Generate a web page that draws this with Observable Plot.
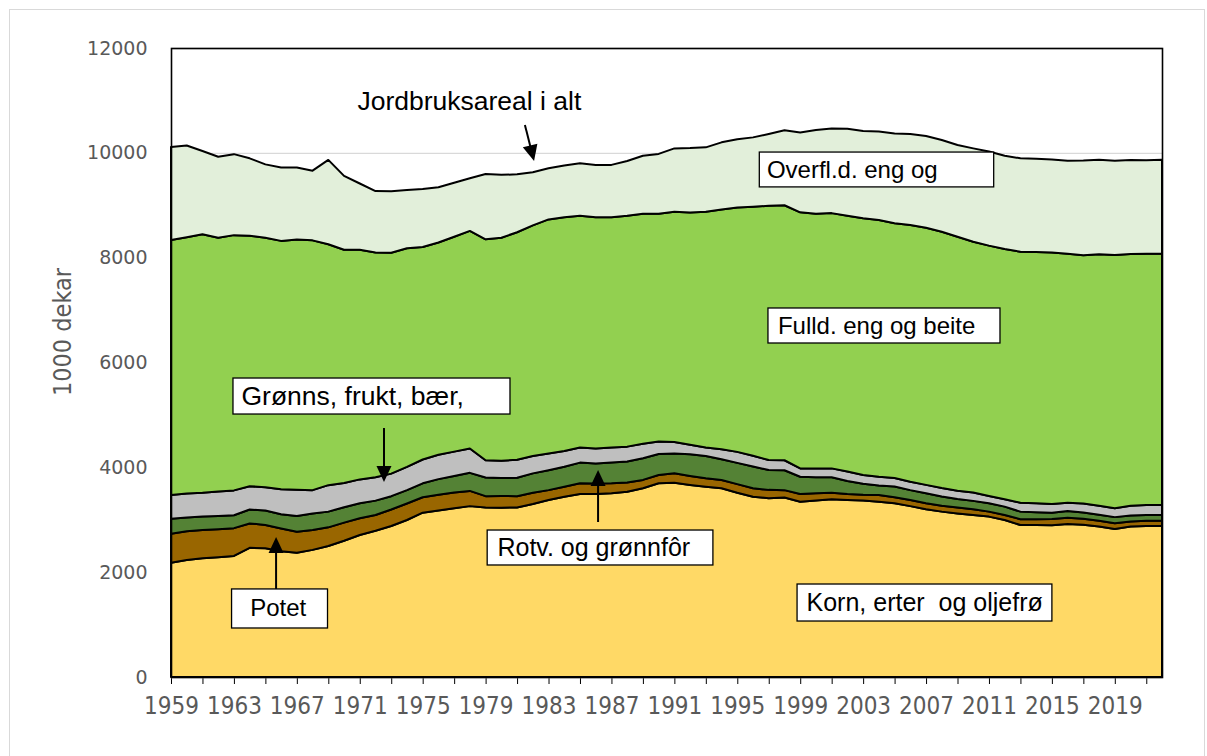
<!DOCTYPE html>
<html>
<head>
<meta charset="utf-8">
<script src="https://cdn.jsdelivr.net/npm/d3@7"></script>
<script src="https://cdn.jsdelivr.net/npm/@observablehq/plot@0.6"></script>
<style>
html, body { margin: 0; padding: 0; background: #fff; }
#wrap { position: relative; width: 1207px; height: 756px; overflow: hidden; }
#border { position: absolute; left: 9px; top: 9px; width: 1196px; height: 780px; border: 1px solid #d9d9d9; box-sizing: border-box; }
#chart { position: absolute; left: 0; top: 0; }
#chart [aria-label^="y-axis"] text { font-family: "DejaVu Sans", sans-serif; font-size: 19px; fill: #595959; }
#chart [aria-label^="x-axis"] text { font-family: "Liberation Sans Narrow", "DejaVu Sans Condensed", "Liberation Sans", sans-serif; font-size: 24px; fill: #595959; }
</style>
</head>
<body>
<div id="wrap"><div id="border"></div><div id="chart"></div></div>
<script>
// ---- data (1000 dekar) ----
const years = [1959,1960,1961,1962,1963,1964,1965,1966,1967,1968,1969,1970,1971,1972,1973,1974,1975,1976,1977,1978,1979,1980,1981,1982,1983,1984,1985,1986,1987,1988,1989,1990,
1991,1992,1993,1994,1995,1996,1997,1998,1999,2000,2001,2002,2003,2004,2005,2006,2007,2008,2009,2010,2011,2012,2013,2014,2015,2016,2017,2018,2019,2020,2021,2022];

const korn = [2180,2230,2265,2285,2310,2465,2455,2400,2370,2425,2500,2600,2710,2790,2880,2995,3135,3175,3220,3260,3235,3230,3235,3300,3375,3440,3490,3490,3505,3535,3600,3695,
3705,3665,3630,3600,3515,3440,3410,3425,3345,3365,3390,3375,3365,3345,3315,3260,3200,3155,3120,3090,3060,2995,2900,2900,2895,2920,2905,2870,2825,2870,2880,2880];

const potet = [555,550,540,535,530,465,445,435,400,380,355,345,320,300,315,315,295,300,300,290,215,225,215,215,190,190,205,200,190,175,160,160,
180,170,160,160,165,160,160,140,145,140,125,115,110,125,115,115,115,110,115,110,95,95,110,110,120,120,115,110,110,95,100,100];

const rotv = [285,265,255,250,245,265,275,270,300,315,300,295,285,275,255,255,265,300,315,345,355,340,350,370,380,380,395,385,395,400,415,400,
380,415,425,395,405,415,380,380,330,305,295,250,210,185,205,190,190,180,160,160,160,160,145,135,120,125,120,115,115,115,110,110];

const gronns = [450,455,455,470,475,445,445,475,500,445,505,460,455,445,430,445,455,465,465,465,330,330,345,330,320,300,290,285,290,285,275,240,
220,180,165,190,210,205,190,190,160,170,170,180,170,165,160,160,160,160,160,160,140,140,170,170,165,160,170,170,170,185,190,190];

const fulld = [4865,4890,4930,4840,4870,4780,4760,4740,4775,4765,4595,4450,4380,4290,4215,4170,4055,4050,4100,4150,4215,4255,4340,4400,4465,4460,4420,4410,4390,4405,4390,4345,
4390,4430,4495,4575,4660,4750,4850,4865,4885,4860,4870,4880,4895,4900,4860,4900,4905,4890,4845,4785,4775,4775,4790,4795,4800,4750,4735,4800,4830,4805,4795,4795];

const overfl = [1775,1750,1590,1545,1545,1475,1400,1400,1375,1330,1610,1410,1265,1170,1170,1110,1105,1055,1030,1005,1245,1200,1105,1015,975,990,1000,1000,1000,1045,1105,1140,
1210,1230,1230,1280,1305,1325,1370,1430,1525,1595,1615,1660,1665,1685,1715,1735,1750,1750,1750,1780,1795,1780,1780,1775,1775,1775,1810,1805,1800,1795,1785,1795];

const seriesNames = ["Korn, erter og oljefrø", "Potet", "Rotv. og grønnfôr", "Grønns, frukt, bær", "Fulld. eng og beite", "Overfl.d. eng og beite"];
const seriesValues = [korn, potet, rotv, gronns, fulld, overfl];
const seriesColors = ["#FFD966", "#996600", "#548235", "#BFBFBF", "#92D050", "#E2EFDA"];

const yTicks = [0, 2000, 4000, 6000, 8000, 10000, 12000];
const tickYears = [1959,1961,1963,1965,1967,1969,1971,1973,1975,1977,1979,1981,1983,1985,1987,1989,1991,1993,1995,1997,1999,2001,2003,2005,2007,2009,2011,2013,2015,2017,2019,2021];
const labelYears = [1959,1963,1967,1971,1975,1979,1983,1987,1991,1995,1999,2003,2007,2011,2015,2019];

// annotation boxes (in data units: year / 1000 dekar)
const boxes = [
  {label: "Overfl.d. eng og", x1: 1996.4, x2: 2011.3, y1: 9350, y2: 10015, tx: 1996.85, ty: 9682, fs: 24},
  {label: "Fulld. eng og beite", x1: 1996.95, x2: 2011.7, y1: 6372, y2: 7040, tx: 1997.55, ty: 6706, fs: 24},
  {label: "Grønns, frukt, bær,", x1: 1962.94, x2: 1980.55, y1: 5017, y2: 5704, tx: 1963.45, ty: 5360, fs: 26.5},
  {label: "Rotv. og grønnfôr", x1: 1979.1, x2: 1993.45, y1: 2137, y2: 2804, tx: 1979.72, ty: 2470, fs: 25},
  {label: "Potet", x1: 1962.85, x2: 1968.95, y1: 935, y2: 1680, tx: 1964.0, ty: 1316, fs: 24},
  {label: "Korn, erter  og oljefrø", x1: 1998.8, x2: 2015.0, y1: 1068, y2: 1774, tx: 1999.37, ty: 1420, fs: 25}
];
const freeLabels = [{label: "Jordbruksareal i alt", tx: 1970.82, ty: 10988, fs: 26.5}];
const arrows = [
  {x1: 1981.5, y1: 10530, x2: 1982.08, y2: 9844},
  {x1: 1972.54, y1: 4750, x2: 1972.54, y2: 3720},
  {x1: 1986.15, y1: 2957, x2: 1986.15, y2: 3949},
  {x1: 1965.68, y1: 1680, x2: 1965.68, y2: 2671}
];

// ---- build table ----
const rows = [];
seriesNames.forEach((name, i) => {
  years.forEach((yr, j) => rows.push({year: yr, series: name, value: seriesValues[i][j]}));
});

function arrowMark(index, scales) {
  const g = d3.create("svg:g").attr("aria-label", "arrows");
  if (!scales || typeof scales.x !== "function") return g.node();
  for (const a of arrows) {
    const x1 = scales.x(a.x1), y1 = scales.y(a.y1), x2 = scales.x(a.x2), y2 = scales.y(a.y2);
    const dx = x2 - x1, dy = y2 - y1, L = Math.hypot(dx, dy), ux = dx / L, uy = dy / L;
    const hl = 16, hw = 7.5;
    const bx = x2 - ux * hl, by = y2 - uy * hl;
    g.append("line").attr("x1", x1).attr("y1", y1).attr("x2", bx + ux * 2).attr("y2", by + uy * 2)
      .attr("stroke", "black").attr("stroke-width", 2);
    g.append("path").attr("d", `M${x2},${y2}L${bx - uy * hw},${by + ux * hw}L${bx + uy * hw},${by - ux * hw}Z`)
      .attr("fill", "black");
  }
  return g.node();
}

const annFont = "'Liberation Sans', Arial, sans-serif";

const chart = Plot.plot({
  width: 1207,
  height: 745,
  marginLeft: 171,
  marginRight: 45,
  marginTop: 48,
  marginBottom: 68,
  style: {background: "transparent", fontFamily: annFont, color: "black", overflow: "visible"},
  x: {domain: [1959, 2022], ticks: tickYears, tickFormat: d => labelYears.includes(d) ? String(d) : "", tickSize: 7, tickPadding: 12, label: null},
  y: {domain: [0, 12000], ticks: yTicks, tickFormat: d => String(d), tickSize: 0, tickPadding: 24, label: null},
  color: {domain: seriesNames, range: seriesColors},
  marks: [
    Plot.ruleY(yTicks, {stroke: "#d9d9d9", strokeWidth: 1.3}),
    Plot.areaY(rows, {x: "year", y: "value", z: "series", fill: "series", stroke: "black", strokeWidth: 2, strokeLinejoin: "round"}),
    Plot.frame({stroke: "black", strokeWidth: 1.6}),
    Plot.text(["1000 dekar"], {frameAnchor: "left", textAnchor: "middle", dx: -109, dy: -31, rotate: -90, text: d => d,
      fontFamily: "'Liberation Sans Narrow', 'DejaVu Sans Condensed', 'Liberation Sans', sans-serif", fontSize: 25, fill: "#595959"}),
    Plot.rect(boxes, {x1: "x1", x2: "x2", y1: "y1", y2: "y2", fill: "white", stroke: "black", strokeWidth: 1.3}),
    Plot.text(boxes, {x: "tx", y: "ty", text: "label", textAnchor: "start", fontSize: "fs", fontFamily: annFont, fill: "black"}),
    Plot.text(freeLabels, {x: "tx", y: "ty", text: "label", textAnchor: "start", fontSize: "fs", fontFamily: annFont, fill: "black"}),
    arrowMark
  ]
});
document.getElementById("chart").appendChild(chart);
</script>
</body>
</html>
